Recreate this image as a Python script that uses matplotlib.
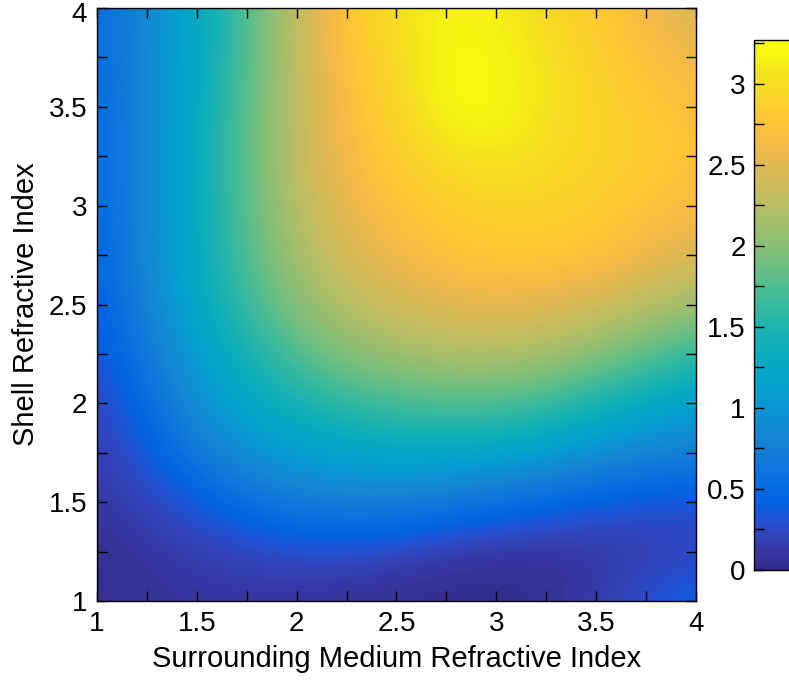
import numpy as np
import matplotlib
matplotlib.use("Agg")
import matplotlib.pyplot as plt
from matplotlib.colors import LinearSegmentedColormap
from matplotlib.ticker import MultipleLocator

plt.rcParams['font.family'] = ['Liberation Sans', 'DejaVu Sans']

# grid positions (refractive indices)
medium_n = [1.0, 1.25, 1.5, 1.75, 2.0, 2.25, 2.5, 2.75, 3.0, 3.25, 3.5, 3.75, 4.0]
shell_n = [1.0, 1.25, 1.5, 1.75, 2.0, 2.25, 2.5, 2.75, 3.0, 3.25, 3.5, 3.75, 4.0]

# values, one row per shell index (bottom row first)
row_100 = [0.05, 0.08, 0.10, 0.10, 0.08, 0.06, 0.03, 0.02, 0.02, 0.05, 0.15, 0.30, 0.45]
row_125 = [0.05, 0.10, 0.15, 0.20, 0.25, 0.25, 0.20, 0.12, 0.08, 0.08, 0.10, 0.15, 0.20]
row_150 = [0.10, 0.20, 0.35, 0.55, 0.70, 0.75, 0.75, 0.65, 0.55, 0.45, 0.35, 0.30, 0.30]
row_175 = [0.15, 0.35, 0.65, 0.95, 1.10, 1.20, 1.25, 1.25, 1.20, 1.10, 0.95, 0.80, 0.75]
row_200 = [0.20, 0.50, 0.95, 1.25, 1.45, 1.60, 1.70, 1.75, 1.75, 1.65, 1.45, 1.30, 1.10]
row_225 = [0.30, 0.65, 1.10, 1.45, 1.75, 2.00, 2.10, 2.20, 2.20, 2.15, 2.00, 1.80, 1.60]
row_250 = [0.35, 0.80, 1.25, 1.65, 2.00, 2.25, 2.40, 2.50, 2.55, 2.50, 2.40, 2.25, 2.10]
row_275 = [0.40, 0.85, 1.30, 1.75, 2.15, 2.45, 2.60, 2.75, 2.80, 2.80, 2.75, 2.60, 2.45]
row_300 = [0.45, 0.85, 1.30, 1.80, 2.25, 2.55, 2.75, 2.85, 2.90, 2.90, 2.85, 2.75, 2.65]
row_325 = [0.45, 0.85, 1.30, 1.80, 2.30, 2.65, 2.85, 3.02, 3.08, 3.00, 2.92, 2.85, 2.75]
row_350 = [0.45, 0.85, 1.30, 1.80, 2.30, 2.70, 2.92, 3.24, 3.22, 3.05, 2.92, 2.80, 2.70]
row_375 = [0.50, 0.85, 1.25, 1.75, 2.30, 2.75, 2.97, 3.22, 3.20, 3.05, 2.88, 2.72, 2.58]
row_400 = [0.50, 0.85, 1.25, 1.75, 2.30, 2.80, 3.02, 3.20, 3.15, 2.95, 2.82, 2.62, 2.40]

field = np.array([row_100, row_125, row_150, row_175, row_200, row_225, row_250,
                  row_275, row_300, row_325, row_350, row_375, row_400])

# MATLAB parula, sampled
parula_colors = [
    (0.2081, 0.1663, 0.5292), (0.2122, 0.2138, 0.6270), (0.1959, 0.2645, 0.7279),
    (0.1253, 0.3242, 0.8303), (0.0117, 0.3875, 0.8820), (0.0165, 0.4266, 0.8786),
    (0.0498, 0.4586, 0.8641), (0.0723, 0.4887, 0.8467), (0.0793, 0.5200, 0.8312),
    (0.0641, 0.5570, 0.8240), (0.0343, 0.5966, 0.8199), (0.0239, 0.6287, 0.8038),
    (0.0228, 0.6535, 0.7768), (0.0384, 0.6743, 0.7436), (0.0843, 0.6928, 0.7062),
    (0.1453, 0.7098, 0.6646), (0.2178, 0.7250, 0.6193), (0.3022, 0.7376, 0.5712),
    (0.3953, 0.7459, 0.5244), (0.4871, 0.7491, 0.4840), (0.5709, 0.7485, 0.4494),
    (0.6473, 0.7456, 0.4188), (0.7184, 0.7411, 0.3905), (0.7858, 0.7356, 0.3633),
    (0.8507, 0.7299, 0.3360), (0.9139, 0.7258, 0.3063), (0.9739, 0.7314, 0.2666),
    (0.9990, 0.7653, 0.2164), (0.9880, 0.8066, 0.1794), (0.9697, 0.8481, 0.1475),
    (0.9589, 0.8949, 0.1132), (0.9661, 0.9514, 0.0755), (0.9763, 0.9831, 0.0538)]
parula = LinearSegmentedColormap.from_list('parula', parula_colors, N=256)

fig = plt.figure(figsize=(7.89, 6.8), dpi=100)
ax = fig.add_axes([0.1229, 0.1162, 0.7592, 0.8720])

half = 0.125
im = ax.imshow(field, origin='lower', cmap=parula, vmin=0, vmax=3.27,
               extent=[medium_n[0] - half, medium_n[-1] + half,
                       shell_n[0] - half, shell_n[-1] + half],
               interpolation='bicubic', aspect='auto')
ax.set_xlim(1, 4)
ax.set_ylim(1, 4)

ax.xaxis.set_major_locator(MultipleLocator(0.5))
ax.yaxis.set_major_locator(MultipleLocator(0.5))
ax.xaxis.set_minor_locator(MultipleLocator(0.25))
ax.yaxis.set_minor_locator(MultipleLocator(0.25))
ax.tick_params(which='both', direction='in', top=True, right=True,
               length=7, width=1, labelsize=20, pad=7)
ax.xaxis.set_major_formatter(plt.FuncFormatter(lambda v, p: f'{v:g}'))
# top y label is drawn separately, a bit lower (matlab keeps it inside the figure)
ax.yaxis.set_major_formatter(plt.FuncFormatter(lambda v, p: '' if v >= 4 else f'{v:g}'))
ax.annotate('4', xy=(0, 1), xycoords='axes fraction', xytext=(-7, -5),
            textcoords='offset points', ha='right', va='center', fontsize=20)
for s in ax.spines.values():
    s.set_linewidth(1)

ax.set_xlabel('Surrounding Medium Refractive Index', fontsize=21, labelpad=6)
ax.set_ylabel('Shell Refractive Index', fontsize=21, labelpad=6)

cax = fig.add_axes([0.9556, 0.1618, 0.07, 0.7794])
cb = fig.colorbar(im, cax=cax)
cb.outline.set_linewidth(1)
cax.yaxis.set_ticks_position('left')
cb.set_ticks([0, 0.5, 1, 1.5, 2, 2.5, 3])
cb.set_ticklabels(['0', '0.5', '1', '1.5', '2', '2.5', '3'])
cax.yaxis.set_minor_locator(MultipleLocator(0.25))
cax.tick_params(which='both', direction='in', length=7, width=1, labelsize=20,
                left=True, right=False, pad=6)

fig.savefig('out.png', dpi=100)
